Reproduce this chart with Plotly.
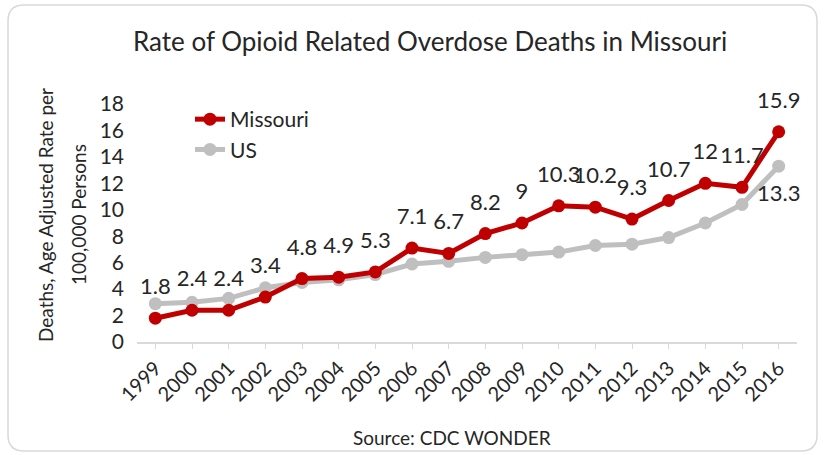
import plotly.graph_objects as go

years = [str(y) for y in range(1999, 2017)]
missouri = [1.8, 2.4, 2.4, 3.4, 4.8, 4.9, 5.3, 7.1, 6.7, 8.2, 9, 10.3, 10.2, 9.3, 10.7, 12, 11.7, 15.9]
us = [2.9, 3.0, 3.3, 4.1, 4.5, 4.7, 5.1, 5.9, 6.1, 6.4, 6.6, 6.8, 7.3, 7.4, 7.9, 9.0, 10.4, 13.3]
us_labels = [""] * 17 + ["13.3"]
mo_labels = [str(v) for v in missouri]

FONT = "Lato"
TXT = "#262626"
LBL = 22

fig = go.Figure()
fig.add_trace(go.Scatter(
    x=years, y=us, name="US", mode="lines+markers", legendrank=2,
    line=dict(color="#BFBFBF", width=5), marker=dict(color="#BFBFBF", size=13),
    cliponaxis=False, hoverinfo="skip",
))
fig.add_trace(go.Scatter(
    x=years, y=missouri, name="Missouri", mode="lines+markers", legendrank=1,
    line=dict(color="#C00000", width=5), marker=dict(color="#C00000", size=13),
    cliponaxis=False, hoverinfo="skip",
))
# data labels (offset further from the points)
fig.add_trace(go.Scatter(
    x=years, y=us, mode="markers+text", showlegend=False, hoverinfo="skip",
    marker=dict(size=28, opacity=0), text=us_labels, textposition="bottom center",
    textfont=dict(family=FONT, size=LBL, color=TXT), cliponaxis=False,
))
fig.add_trace(go.Scatter(
    x=years, y=missouri, mode="markers+text", showlegend=False, hoverinfo="skip",
    marker=dict(size=28, opacity=0), text=mo_labels, textposition="top center",
    textfont=dict(family=FONT, size=LBL, color=TXT), cliponaxis=False,
))

L, R, T, B = 137, 27, 104, 113
W, H = 824, 455
pw, ph = W - L - R, H - T - B

def px(x):
    return (x - L) / pw

def py(y):
    return (H - B - y) / ph

x0, x1, y0, y1 = px(8), px(817), py(5), py(451)
rx, ry = 16 / pw, 16 / ph
path = (f"M {x0+rx},{y0} L {x1-rx},{y0} Q {x1},{y0} {x1},{y0-ry} "
        f"L {x1},{y1+ry} Q {x1},{y1} {x1-rx},{y1} L {x0+rx},{y1} "
        f"Q {x0},{y1} {x0},{y1+ry} L {x0},{y0-ry} Q {x0},{y0} {x0+rx},{y0} Z")

fig.update_layout(
    width=W, height=H,
    margin=dict(l=L, r=R, t=T, b=B),
    paper_bgcolor="white", plot_bgcolor="white",
    font=dict(family=FONT, color=TXT, size=18),
    hovermode=False,
    title=dict(text="Rate of Opioid Related Overdose Deaths in Missouri",
               x=0.522, xanchor="center", y=1 - 42 / H, yanchor="middle",
               font=dict(family=FONT, size=26, color=TXT)),
    showlegend=True,
    legend=dict(x=px(190), y=py(99), xanchor="left", yanchor="top",
                bgcolor="rgba(0,0,0,0)", font=dict(family=FONT, size=21, color=TXT),
                traceorder="grouped", tracegroupgap=12),
    shapes=[dict(type="path", path=path, xref="paper", yref="paper",
                 line=dict(color="#D9D9D9", width=1.5), layer="below")],
    annotations=[
        dict(text="Source: CDC WONDER", xref="paper", yref="paper",
             x=px(452), y=py(437), xanchor="center", yanchor="middle",
             showarrow=False, font=dict(family=FONT, size=19, color=TXT)),
        dict(text="Deaths, Age Adjusted Rate per", xref="paper", yref="paper",
             x=px(45), y=py(215), xanchor="center", yanchor="middle", textangle=-90,
             showarrow=False, font=dict(family=FONT, size=19, color=TXT)),
        dict(text="100,000 Persons", xref="paper", yref="paper",
             x=px(78), y=py(215), xanchor="center", yanchor="middle", textangle=-90,
             showarrow=False, font=dict(family=FONT, size=19, color=TXT)),
    ],
)
fig.update_xaxes(type="category", showgrid=False, showline=True, linecolor="#D9D9D9",
                 linewidth=1.5, ticks="outside", tickcolor="#D9D9D9", ticklen=5,
                 tickangle=-45, tickfont=dict(family=FONT, size=20, color=TXT),
                 range=[-0.5, 17.5])
fig.update_yaxes(range=[0, 18], dtick=2, showgrid=False, showline=False, zeroline=False,
                 tickfont=dict(family=FONT, size=21, color=TXT), ticks="",
                 ticklabelstandoff=12)

fig.write_html("out.html", config={"displayModeBar": False},
               post_script="document.body.style.margin='0';window.dispatchEvent(new Event('resize'));")
